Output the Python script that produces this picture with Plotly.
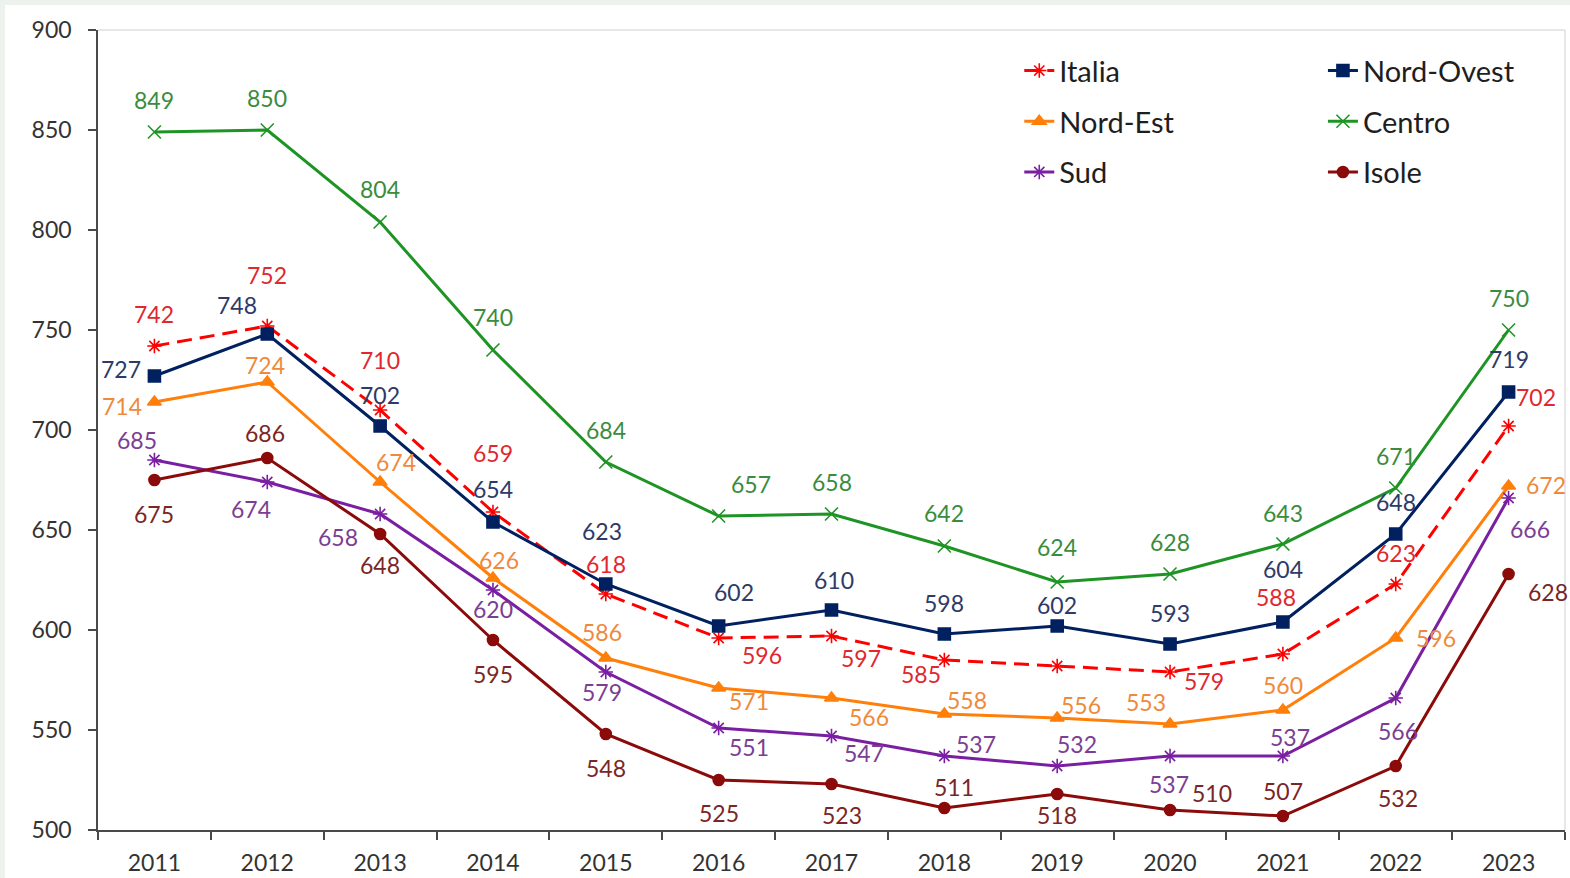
import plotly.graph_objects as go

years = ["2011", "2012", "2013", "2014", "2015", "2016", "2017", "2018", "2019", "2020", "2021", "2022", "2023"]

italia = [742, 752, 710, 659, 618, 596, 597, 585, 582, 579, 588, 623, 702]
nord_ovest = [727, 748, 702, 654, 623, 602, 610, 598, 602, 593, 604, 648, 719]
nord_est = [714, 724, 674, 626, 586, 571, 566, 558, 556, 553, 560, 596, 672]
centro = [849, 850, 804, 740, 684, 657, 658, 642, 624, 628, 643, 671, 750]
sud = [685, 674, 658, 620, 579, 551, 547, 537, 532, 537, 537, 566, 666]
isole = [675, 686, 648, 595, 548, 525, 523, 511, 518, 510, 507, 532, 628]

# which data labels are shown (Italia 2019 has no label in the original)
italia_show = [True] * 8 + [False] + [True] * 4

# label offsets in pixels (dx right, dy down) -- styling only
off = {
    "Italia": [(0, -32), (0, -51), (0, -50), (0, -59), (0, -30), (43, 17), (29, 22), (-23, 14), None, (34, 9), (-7, -57), (0, -31), (27, -29)],
    "Nord-Ovest": [(-33, -7), (-30, -29), (0, -31), (0, -33), (-4, -53), (15, -34), (2, -30), (0, -31), (0, -21), (0, -31), (0, -53), (0, -32), (0, -33)],
    "Nord-Est": [(-32, 4), (-2, -17), (16, -20), (6, -18), (-4, -26), (30, 13), (37, 19), (23, -14), (24, -13), (-24, -22), (0, -25), (40, 0), (37, -1)],
    "Centro": [(0, -32), (0, -32), (0, -33), (0, -33), (0, -32), (32, -32), (0, -32), (0, -33), (0, -35), (0, -32), (0, -31), (0, -32), (0, -32)],
    "Sud": [(-17, -20), (-16, 27), (-42, 23), (0, 19), (-4, 20), (30, 19), (32, 17), (32, -12), (20, -22), (-1, 28), (7, -19), (2, 33), (21, 31)],
    "Isole": [(0, 34), (-2, -25), (0, 31), (0, 34), (0, 34), (0, 33), (10, 31), (10, -21), (0, 21), (42, -17), (0, -25), (2, 32), (39, 18)],
}

series = [
    # name, values, line color, label color, symbol, size, dash, legend
    ("Italia", italia, "#FF0000", "#E0282E", "asterisk-open", 12, "15px,8px", "legend"),
    ("Nord-Ovest", nord_ovest, "#002060", "#2E3A68", "square", 12, "solid", "legend2"),
    ("Nord-Est", nord_est, "#FF7F0A", "#EE8A3C", "triangle-up", 12, "solid", "legend"),
    ("Centro", centro, "#1E9425", "#3A8C3E", "x-thin-open", 13, "solid", "legend2"),
    ("Sud", sud, "#7A1FA2", "#7B3E93", "asterisk-open", 12, "solid", "legend"),
    ("Isole", isole, "#8B0A0A", "#7A2626", "circle", 11, "solid", "legend2"),
]

fig = go.Figure()
annotations = []
for name, vals, col, lcol, sym, size, dash, leg in series:
    fig.add_trace(go.Scatter(
        x=years, y=vals, name=name, mode="lines+markers",
        line=dict(color=col, width=3, dash=dash),
        marker=dict(symbol=sym, size=size, color=col, line=dict(color=col, width=1.6)),
        legend=leg, legendgroup=name,
    ))
    for i, v in enumerate(vals):
        if name == "Italia" and not italia_show[i]:
            continue
        o = off[name][i]
        if o is None:
            continue
        annotations.append(dict(
            x=i, y=v, xref="x", yref="y", text=str(v), showarrow=False,
            xshift=o[0], yshift=-o[1],
            font=dict(family="Lato", size=23, color=lcol),
        ))

W, H = 1570, 878
ml, mr, mt, mb = 98, 5, 30, 48
pw, ph = W - ml - mr, H - mt - mb

shapes = [
    # outer light strips (top and left)
    dict(type="rect", xref="paper", yref="paper", layer="below",
         x0=-ml / pw, x1=1 + mr / pw, y0=1 + (mt - 5) / ph, y1=1 + mt / ph,
         fillcolor="#EEF2EE", line=dict(width=0)),
    dict(type="rect", xref="paper", yref="paper", layer="below",
         x0=-ml / pw, x1=(5 - ml) / pw, y0=-mb / ph, y1=1 + mt / ph,
         fillcolor="#EEF2EE", line=dict(width=0)),
    # plot area border (top / right)
    dict(type="line", xref="paper", yref="paper", x0=0, x1=1, y0=1, y1=1,
         line=dict(color="#D0D0D0", width=1)),
    dict(type="line", xref="paper", yref="paper", x0=1, x1=1, y0=0, y1=1,
         line=dict(color="#D0D0D0", width=1)),
]

fig.update_layout(
    width=W, height=H,
    margin=dict(l=ml, r=mr, t=mt, b=mb, autoexpand=False),
    paper_bgcolor="white", plot_bgcolor="white",
    font=dict(family="Lato", size=23, color="#404040"),
    showlegend=True,
    legend=dict(x=0.628, y=0.981, xanchor="left", yanchor="top",
                bgcolor="rgba(0,0,0,0)", font=dict(family="Lato", size=29, color="#1E1E1E"),
                traceorder="grouped", tracegroupgap=10),
    legend2=dict(x=0.835, y=0.981, xanchor="left", yanchor="top",
                 bgcolor="rgba(0,0,0,0)", font=dict(family="Lato", size=29, color="#1E1E1E"),
                 traceorder="grouped", tracegroupgap=10),
    annotations=annotations,
    shapes=shapes,
    xaxis=dict(type="category", range=[-0.5, 12.5], tickson="boundaries",
               ticks="outside", ticklen=8, tickcolor="#4A4A4A", tickwidth=1.5,
               showline=True, linecolor="#4A4A4A", linewidth=1.5,
               showgrid=False, zeroline=False, ticklabelstandoff=12, automargin=False,
               tickfont=dict(family="Lato", size=23, color="#333333")),
    yaxis=dict(range=[500, 900], dtick=50, ticks="outside", ticklen=8,
               tickcolor="#4A4A4A", tickwidth=1.5,
               showline=True, linecolor="#4A4A4A", linewidth=1.5,
               showgrid=False, zeroline=False, ticklabelstandoff=12, automargin=False,
               tickfont=dict(family="Lato", size=23, color="#333333")),
)

fig.write_html("out.html")
